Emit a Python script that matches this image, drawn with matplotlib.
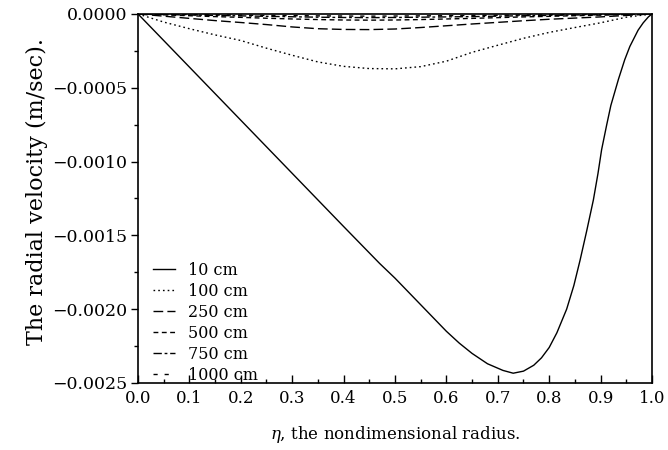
import matplotlib
matplotlib.use("Agg")
import matplotlib.pyplot as plt
from matplotlib.ticker import MultipleLocator, FuncFormatter

plt.rcParams['font.family'] = ['DejaVu Serif']
plt.rcParams['mathtext.fontset'] = 'dejavuserif'

# 10 cm
eta_10 = [0.0, 0.1, 0.2, 0.3, 0.4, 0.47, 0.5, 0.55, 0.575, 0.6, 0.625, 0.65, 0.68, 0.71, 0.73,
          0.75, 0.77, 0.785, 0.8, 0.815, 0.834, 0.848, 0.86, 0.873, 0.886, 0.895, 0.902, 0.912,
          0.92, 0.935, 0.947, 0.957, 0.973, 0.983, 0.993, 1.0]
v_10 = [0.0, -0.00036, -0.00072, -0.00108, -0.00144, -0.00169, -0.00179, -0.00197, -0.00206,
        -0.00215, -0.00223, -0.00230, -0.00237, -0.002415, -0.002434, -0.00242, -0.00238,
        -0.00233, -0.00226, -0.00216, -0.00200, -0.00184, -0.00167, -0.00147, -0.00126,
        -0.00108, -0.00092, -0.00075, -0.00062, -0.00044, -0.00031, -0.00022, -0.00011,
        -0.00006, -0.00002, 0.0]

eta = [0.0, 0.05, 0.1, 0.15, 0.2, 0.25, 0.3, 0.35, 0.4, 0.45, 0.5, 0.55, 0.6, 0.65, 0.7,
       0.75, 0.8, 0.85, 0.9, 0.95, 1.0]
v_100 = [0.0, -0.000055, -0.0001, -0.000142, -0.00018, -0.000232, -0.00028, -0.000325,
         -0.000355, -0.00037, -0.000372, -0.000357, -0.00032, -0.00026, -0.000212, -0.000165,
         -0.000125, -0.000092, -0.00006, -0.000022, 0.0]
v_250 = [0.0, -0.000015, -0.00003, -0.000045, -0.000058, -0.000072, -0.000088, -0.0001,
         -0.000105, -0.000106, -0.000102, -0.000092, -0.00008, -0.000068, -0.000057, -0.000046,
         -0.000036, -0.000028, -0.00002, -0.00001, 0.0]
v_500 = [0.0, -0.000006, -0.000012, -0.000018, -0.000023, -0.000029, -0.000034, -0.000038,
         -0.000041, -0.000042, -0.000041, -0.000038, -0.000034, -0.00003, -0.000025, -0.00002,
         -0.000016, -0.000012, -0.000008, -0.000004, 0.0]
v_750 = [0.0, -0.000004, -0.000007, -0.00001, -0.000013, -0.000016, -0.000019, -0.000022,
         -0.000024, -0.000025, -0.000024, -0.000022, -0.00002, -0.000018, -0.000015, -0.000012,
         -0.00001, -0.000007, -0.000005, -0.000002, 0.0]
v_1000 = [0.0, -0.000002, -0.000004, -0.000006, -0.000008, -0.00001, -0.000011, -0.000013,
          -0.000014, -0.000015, -0.000014, -0.000013, -0.000012, -0.00001, -0.000009, -0.000007,
          -0.000006, -0.000004, -0.000003, -0.000001, 0.0]

labels = ['10 cm', '100 cm', '250 cm', '500 cm', '750 cm', '1000 cm']

fig = plt.figure(figsize=(6.68, 4.5), dpi=100)
ax = fig.add_axes([0.2066, 0.149, 0.7694, 0.820])

lw = 1.0
ax.plot(eta_10, v_10, color='black', lw=lw, ls='-', label=labels[0])
ax.plot(eta, v_100, color='black', lw=lw, ls=(0, (1.2, 2.2)), label=labels[1])
ax.plot(eta, v_250, color='black', lw=lw, ls=(0, (7, 3)), label=labels[2])
ax.plot(eta, v_500, color='black', lw=lw, ls=(0, (3.5, 2.5)), label=labels[3])
ax.plot(eta, v_750, color='black', lw=lw, ls=(0, (6, 2, 2, 2)), label=labels[4])
ax.plot(eta, v_1000, color='black', lw=lw, ls=(0, (3, 5)), label=labels[5])

ax.set_xlim(0.0, 1.0)
ax.set_ylim(-0.0025, 0.0)
ax.xaxis.set_major_locator(MultipleLocator(0.1))
ax.xaxis.set_minor_locator(MultipleLocator(0.05))
ax.yaxis.set_major_locator(MultipleLocator(0.0005))
ax.yaxis.set_minor_locator(MultipleLocator(0.00025))
ax.xaxis.set_major_formatter(FuncFormatter(lambda v, p: f'{v:.1f}'))
ax.yaxis.set_major_formatter(FuncFormatter(
    lambda v, p: ('\u2212' if v < -1e-12 else '') + f'{abs(v):.4f}'))

ax.tick_params(axis='x', which='major', direction='in', length=6, width=1, labelsize=12, pad=5)
ax.tick_params(axis='x', which='minor', direction='in', length=3, width=1)
ax.tick_params(axis='y', which='major', direction='out', length=5, width=1, labelsize=12.5, pad=3)
ax.tick_params(axis='y', which='minor', direction='out', length=3, width=1)
for s in ax.spines.values():
    s.set_linewidth(1.2)

ax.set_xlabel(r'$\eta$, the nondimensional radius.', fontsize=12, labelpad=12)
ax.set_ylabel('The radial velocity (m/sec).', fontsize=16)
ax.yaxis.set_label_coords(-0.175, 0.52)

leg = ax.legend(loc='lower left', frameon=False, fontsize=11.5, handlelength=1.4,
                handletextpad=0.8, labelspacing=0.25, borderaxespad=0.2,
                bbox_to_anchor=(0.01, -0.028))

fig.savefig('out.png', dpi=100)
